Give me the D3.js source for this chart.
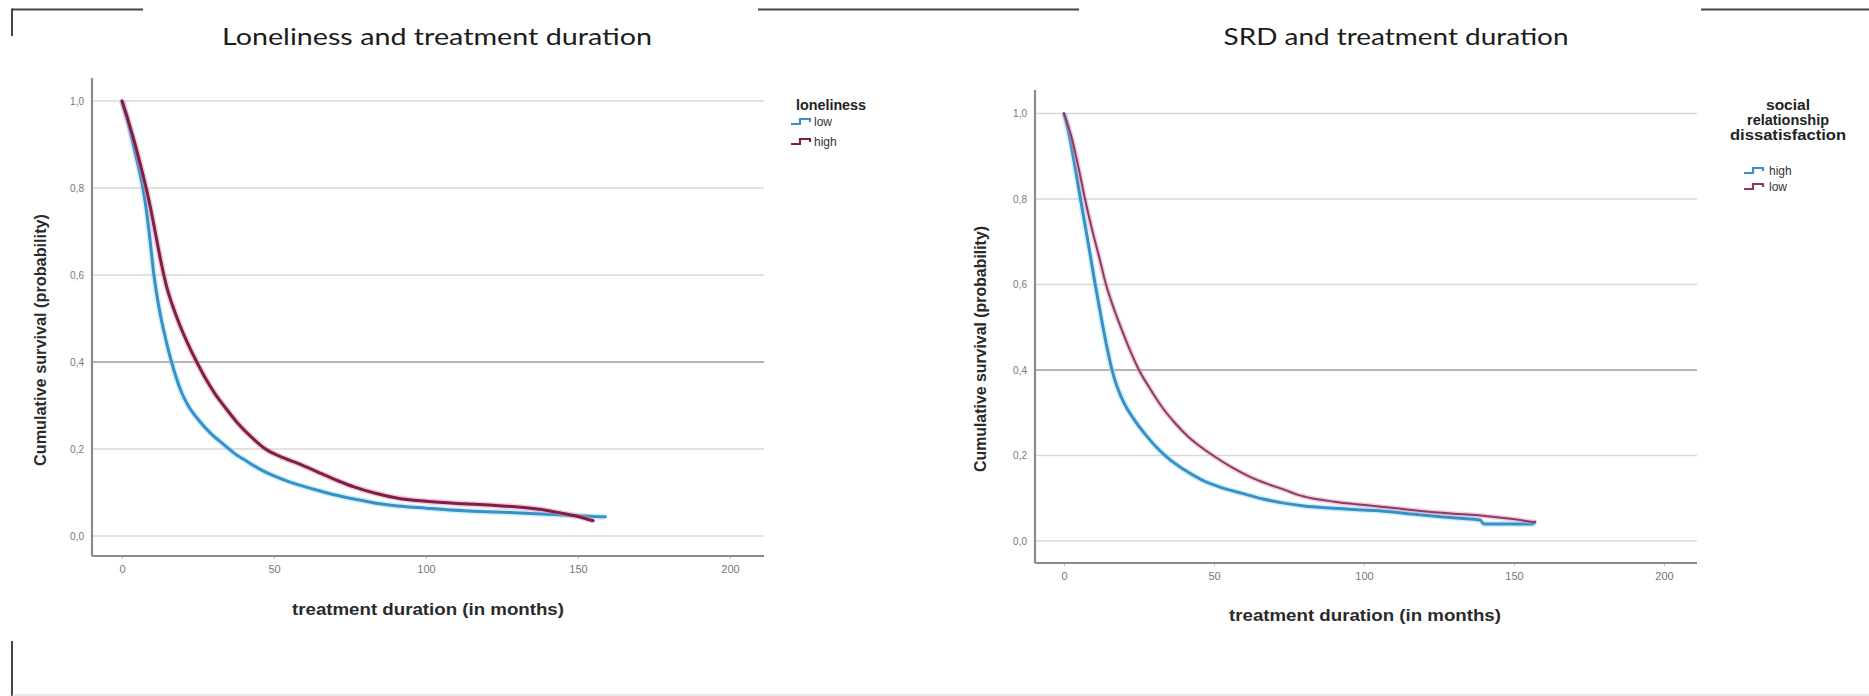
<!DOCTYPE html>
<html><head><meta charset="utf-8">
<script src="https://cdn.jsdelivr.net/npm/d3@7"></script>
<style>body{margin:0;background:#fff}svg{display:block}</style>
</head><body><svg id="chart" width="1869" height="696"></svg>
<script>
// ---------------- DATA ----------------
const xTickValues = [0, 50, 100, 150, 200];
const xTickLabels = ["0", "50", "100", "150", "200"];
const yTickValues = [0, 0.2, 0.4, 0.6, 0.8, 1.0];
const yTickLabels = ["0,0", "0,2", "0,4", "0,6", "0,8", "1,0"];

const chartTitles = ["Loneliness and treatment duration", "SRD and treatment duration"];
const xAxisTitle = "treatment duration (in months)";
const yAxisTitle = "Cumulative survival (probability)";
const legendTitleLines = [["loneliness"], ["social", "relationship", "dissatisfaction"]];
const legendLabels = [["low", "high"], ["high", "low"]];

// Left chart: loneliness
const lonelinessLowMonths   = [0, 2, 4, 5.7, 6.6, 7.6, 8.9, 10.5, 12.3, 14.3, 16.3, 19.6, 22, 25.4, 29, 33, 37, 41, 45, 50, 56, 61.8, 69, 76.3, 83, 90.8, 100, 112.6, 123, 134.4, 145, 159];
const lonelinessLowSurvival = [1, 0.95, 0.89, 0.84, 0.81, 0.77, 0.70, 0.60, 0.52, 0.455, 0.40, 0.33, 0.297, 0.265, 0.237, 0.213, 0.19, 0.172, 0.155, 0.138, 0.122, 0.11, 0.096, 0.085, 0.076, 0.069, 0.064, 0.058, 0.055, 0.052, 0.048, 0.044];
const lonelinessHighMonths   = [0, 2, 4, 6, 8.1, 9.5, 10.8, 12.2, 13.6, 15, 16.5, 19, 21.8, 24.6, 27.5, 30.5, 34, 38, 42.5, 47.2, 53, 58.5, 65, 71, 76.3, 83, 90.8, 100, 112.6, 123, 134.4, 139, 145, 150, 155];
const lonelinessHighSurvival = [1, 0.956, 0.908, 0.855, 0.795, 0.75, 0.703, 0.652, 0.605, 0.565, 0.532, 0.485, 0.44, 0.40, 0.362, 0.328, 0.295, 0.26, 0.228, 0.20, 0.18, 0.165, 0.145, 0.127, 0.113, 0.099, 0.087, 0.08, 0.074, 0.07, 0.064, 0.06, 0.052, 0.045, 0.035];

// Right chart: social relationship dissatisfaction (SRD)
const srdHighMonths   = [0, 2, 3.8, 5.5, 8, 10.4, 13, 14.5, 16, 17.5, 19.2, 21, 23, 25, 28.2, 31, 35.5, 40, 45.9, 52, 59.1, 66, 73.8, 80, 88.6, 98, 107.7, 116, 125.4, 132, 138.6, 140, 156.3, 157];
const srdHighSurvival = [1, 0.94, 0.87, 0.80, 0.70, 0.60, 0.50, 0.447, 0.40, 0.365, 0.335, 0.31, 0.288, 0.268, 0.24, 0.218, 0.189, 0.167, 0.143, 0.126, 0.112, 0.099, 0.088, 0.082, 0.077, 0.073, 0.069, 0.063, 0.057, 0.053, 0.049, 0.04, 0.04, 0.045];
const srdLowMonths   = [0, 2.5, 4.8, 7, 9.3, 11.7, 14, 16.8, 19.5, 22.2, 25, 28.8, 32.6, 37, 41.4, 46, 50.3, 56, 62, 68, 73.8, 78, 82.6, 90, 100.3, 110, 122.4, 130, 137.2, 147.5, 157];
const srdLowSurvival = [1, 0.945, 0.875, 0.80, 0.73, 0.665, 0.60, 0.54, 0.49, 0.443, 0.40, 0.355, 0.314, 0.276, 0.244, 0.218, 0.197, 0.172, 0.15, 0.133, 0.119, 0.108, 0.10, 0.092, 0.084, 0.077, 0.068, 0.064, 0.061, 0.053, 0.044];

// ---------------- LAYOUT / STYLE ----------------
const BLUE = "#3b8fc6", BLUE_HALO = "#8fe2f8";
const RED = "#7d1f47", RED_HALO = "#e38fb0";
const SANS = "Liberation Sans, Arial, sans-serif";

const panels = [
  {
    xAt0: 122, xAt200: 730, x0: 92, x1: 764,
    yAt0: 536, yAt1: 101, yTop: 78, yBot: 556,
    title: {cx: 437, y: 45, len: 430},
    xTitle: {cx: 428, y: 615},
    yTitle: {x: 46, cy: 340, len: 252},
    legend: {titleX: 796, titleY: [110], anchor: "start", titleLens: [70], symX: 791, textX: 812, itemY: [126, 146]},
    series: [
      {months: lonelinessLowMonths, surv: lonelinessLowSurvival, color: BLUE, halo: BLUE_HALO, width: 3},
      {months: lonelinessHighMonths, surv: lonelinessHighSurvival, color: RED, halo: RED_HALO, width: 3}
    ],
    legendColors: [BLUE, RED]
  },
  {
    xAt0: 1064, xAt200: 1664, x0: 1035, x1: 1697,
    yAt0: 541, yAt1: 113.5, yTop: 90, yBot: 563,
    title: {cx: 1396, y: 45, len: 345},
    xTitle: {cx: 1365, y: 621},
    yTitle: {x: 986, cy: 349, len: 246},
    legend: {titleX: 1788, titleY: [110, 125, 140], anchor: "middle", titleLens: [44, 82, 116], symX: 1744, textX: 1767, itemY: [175, 191]},
    series: [
      {months: srdHighMonths, surv: srdHighSurvival, color: BLUE, halo: BLUE_HALO, width: 3},
      {months: srdLowMonths, surv: srdLowSurvival, color: "#8a3c66", halo: RED_HALO, width: 2}
    ],
    legendColors: [BLUE, "#8a3c66"]
  }
];

const svg = d3.select("#chart");
svg.append("rect").attr("width", 1869).attr("height", 696).attr("fill", "#fff");

// slide frame fragments
const frame = svg.append("g").attr("stroke", "#444").attr("stroke-width", 2).attr("fill", "none");
[[12,9.5,143,9.5],[12,8.5,12,36],[758,9.5,1079,9.5],[1701,9.5,1869,9.5],[12,641,12,696]].forEach(s =>
  frame.append("line").attr("x1", s[0]).attr("y1", s[1]).attr("x2", s[2]).attr("y2", s[3]));
svg.append("line").attr("x1", 12).attr("y1", 695).attr("x2", 1869).attr("y2", 695)
  .attr("stroke", "#cfcfcf").attr("stroke-width", 1);

panels.forEach((p, i) => {
  const g = svg.append("g");
  const x = d3.scaleLinear().domain([0, 200]).range([p.xAt0, p.xAt200]);
  const y = d3.scaleLinear().domain([0, 1]).range([p.yAt0, p.yAt1]);

  // gridlines
  g.append("g").selectAll("line").data(yTickValues).join("line")
    .attr("x1", p.x0).attr("x2", p.x1)
    .attr("y1", d => y(d)).attr("y2", d => y(d))
    .attr("stroke", d => Math.abs(d - 0.4) < 1e-6 ? "#9d9d9d" : "#d9d9d9")
    .attr("stroke-width", 1.6);

  // axes
  const xAxis = d3.axisBottom(x).tickValues(xTickValues).tickFormat((d, k) => xTickLabels[k]).tickSize(3).tickPadding(6);
  const gx = g.append("g").attr("transform", `translate(0,${p.yBot})`).call(xAxis);
  gx.select(".domain").remove();
  gx.selectAll(".tick line").attr("stroke", "#bbb");
  gx.selectAll(".tick text").attr("font-family", SANS).attr("font-size", 11).attr("fill", "#777");
  g.append("line").attr("x1", p.x0).attr("x2", p.x1).attr("y1", p.yBot).attr("y2", p.yBot)
    .attr("stroke", "#8a8a8a").attr("stroke-width", 2.2);

  const yAxis = d3.axisLeft(y).tickValues(yTickValues).tickFormat((d, k) => yTickLabels[k]).tickSize(0).tickPadding(8);
  const gy = g.append("g").attr("transform", `translate(${p.x0},0)`).call(yAxis);
  gy.select(".domain").remove();
  gy.selectAll(".tick text").attr("font-family", SANS).attr("font-size", 10).attr("fill", "#777");
  g.append("line").attr("x1", p.x0).attr("x2", p.x0).attr("y1", p.yTop).attr("y2", p.yBot)
    .attr("stroke", "#8a8a8a").attr("stroke-width", 2.2);

  // curves
  p.series.forEach(s => {
    const pts = s.months.map((m, k) => [m, s.surv[k]]);
    const line = d3.line().x(d => x(d[0])).y(d => y(d[1])).curve(d3.curveMonotoneX);
    g.append("path").attr("d", line(pts)).attr("fill", "none")
      .attr("stroke", s.halo).attr("stroke-width", s.width + 3).attr("stroke-opacity", 0.45)
      .attr("stroke-linejoin", "round");
    g.append("path").attr("d", line(pts)).attr("fill", "none")
      .attr("stroke", s.color).attr("stroke-width", s.width)
      .attr("stroke-linejoin", "round").attr("stroke-linecap", "round");
  });

  // chart title
  svg.append("text").attr("x", p.title.cx).attr("y", p.title.y)
    .attr("text-anchor", "middle").attr("font-family", "Lato, 'Open Sans', sans-serif")
    .attr("font-size", 24).attr("fill", "#1c1c1c")
    .attr("textLength", p.title.len).attr("lengthAdjust", "spacingAndGlyphs")
    .text(chartTitles[i]);

  // axis titles
  svg.append("text").attr("x", p.xTitle.cx).attr("y", p.xTitle.y)
    .attr("text-anchor", "middle").attr("font-family", SANS)
    .attr("font-weight", "bold").attr("font-size", 17).attr("fill", "#2a2a2a")
    .attr("textLength", 272).attr("lengthAdjust", "spacingAndGlyphs")
    .text(xAxisTitle);
  svg.append("text").attr("transform", `translate(${p.yTitle.x},${p.yTitle.cy}) rotate(-90)`)
    .attr("text-anchor", "middle").attr("font-family", SANS)
    .attr("font-weight", "bold").attr("font-size", 16).attr("fill", "#2a2a2a")
    .attr("textLength", p.yTitle.len).attr("lengthAdjust", "spacingAndGlyphs")
    .text(yAxisTitle);

  // legend
  const L = p.legend;
  legendTitleLines[i].forEach((t, k) => {
    svg.append("text").attr("x", L.titleX).attr("y", L.titleY[k])
      .attr("text-anchor", L.anchor).attr("font-family", SANS)
      .attr("font-weight", "bold").attr("font-size", 14).attr("fill", "#222")
      .attr("textLength", L.titleLens[k]).attr("lengthAdjust", "spacingAndGlyphs")
      .text(t);
  });
  legendLabels[i].forEach((lab, k) => {
    const yy = L.itemY[k];
    const sx = L.symX;
    svg.append("path")
      .attr("d", `M${sx},${yy - 2} H${sx + 9} V${yy - 7} H${sx + 19} V${yy - 4}`)
      .attr("fill", "none").attr("stroke", p.legendColors[k]).attr("stroke-width", 2.2);
    svg.append("text").attr("x", L.textX + 2).attr("y", yy)
      .attr("font-family", SANS)
      .attr("font-size", 12).attr("fill", "#333")
      .text(lab);
  });
});
</script>
</body></html>
